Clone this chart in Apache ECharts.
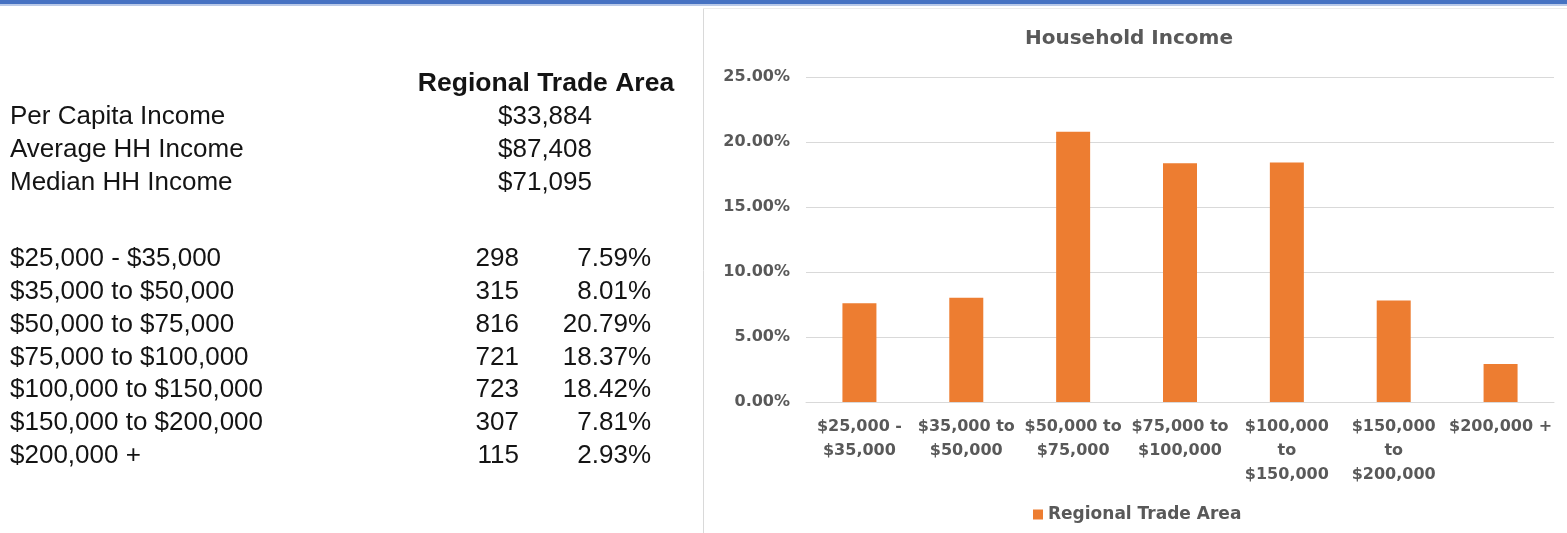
<!DOCTYPE html>
<html>
<head>
<meta charset="utf-8">
<title>Household Income</title>
<script src="https://cdn.jsdelivr.net/npm/echarts@6/dist/echarts.min.js"></script>
<style>
  html, body { margin: 0; padding: 0; background: #fff; }
  #main { width: 1567px; height: 533px; }
</style>
</head>
<body>
<div id="main"></div>
<script>
// chart data
const categories = ['$25,000 -\n$35,000', '$35,000 to\n$50,000', '$50,000 to\n$75,000', '$75,000 to\n$100,000',
  '$100,000\nto\n$150,000', '$150,000\nto\n$200,000', '$200,000 +']
const shares = [7.59, 8.01, 20.79, 18.37, 18.42, 7.81, 2.93]
const seriesName = 'Regional Trade Area'
const yMin = 0
const yMax = 25
const yStep = 5

// table data
const bandLabels = ['$25,000 - $35,000', '$35,000 to $50,000', '$50,000 to $75,000', '$75,000 to $100,000',
  '$100,000 to $150,000', '$150,000 to $200,000', '$200,000 +']
const households = [298, 315, 816, 721, 723, 307, 115]
const summaryLabels = ['Per Capita Income', 'Average HH Income', 'Median HH Income']
const summaryValues = ['$33,884', '$87,408', '$71,095']

const tableFont = '"Liberation Sans", Arial, sans-serif'
const chartFont = '"DejaVu Sans", sans-serif'
const axisGray = '#595959'

function cell(text, x, y, align, bold) {
  return {
    type: 'text',
    x: x,
    y: y,
    style: {
      text: text,
      fill: '#141414',
      font: (bold ? 'bold 26.5px ' : '26px ') + tableFont,
      textAlign: align,
      textVerticalAlign: 'middle'
    }
  }
}

const graphics = [
  // blue strip along the top of the sheet
  { type: 'rect', shape: { x: 0, y: 0, width: 1567, height: 4 }, style: { fill: '#4672c2' } },
  { type: 'rect', shape: { x: 0, y: 4, width: 1567, height: 2 }, style: { fill: '#b9c9e8' } },
  // chart panel border
  { type: 'line', shape: { x1: 703.5, y1: 8, x2: 703.5, y2: 533 }, style: { stroke: '#d9d9d9', lineWidth: 1 } },
  { type: 'line', shape: { x1: 703, y1: 8.5, x2: 1567, y2: 8.5 }, style: { stroke: '#ececec', lineWidth: 1 } },
  cell(seriesName, 546, 84, 'center', true)
]

summaryLabels.forEach((label, i) => {
  const y = 117 + i * 33
  graphics.push(cell(label, 10, y, 'left'))
  graphics.push(cell(summaryValues[i], 545, y, 'center'))
})

bandLabels.forEach((label, i) => {
  const y = 259 + i * 32.8
  graphics.push(cell(label, 10, y, 'left'))
  graphics.push(cell(String(households[i]), 519, y, 'right'))
  graphics.push(cell(shares[i].toFixed(2) + '%', 651, y, 'right'))
})

const options = {
  animation: false,
  textStyle: { fontFamily: chartFont },
  title: {
    text: 'Household Income',
    left: 1025,
    top: 29,
    padding: 0,
    textStyle: { fontFamily: chartFont, fontSize: 20, fontWeight: 'bold', color: axisGray }
  },
  legend: {
    data: [seriesName],
    left: 1033,
    top: 506,
    itemWidth: 10,
    itemHeight: 10,
    itemGap: 5,
    icon: 'rect',
    padding: 0,
    textStyle: { fontFamily: chartFont, fontSize: 17, fontWeight: 'bold', color: axisGray, padding: [0, 0, 0, 0] }
  },
  grid: { left: 806, right: 13, top: 77, bottom: 131, containLabel: false },
  xAxis: {
    type: 'category',
    data: categories,
    axisLine: { lineStyle: { color: '#d9d9d9', width: 1 } },
    axisTick: { show: false },
    axisLabel: {
      interval: 0,
      margin: 13,
      fontFamily: chartFont,
      fontSize: 16,
      fontWeight: 'bold',
      color: axisGray,
      lineHeight: 24,
      align: 'center'
    }
  },
  yAxis: {
    type: 'value',
    min: yMin,
    max: yMax,
    interval: yStep,
    axisLine: { show: false },
    axisTick: { show: false },
    splitLine: { lineStyle: { color: '#d9d9d9', width: 1 } },
    axisLabel: {
      margin: 16,
      fontFamily: chartFont,
      fontSize: 16,
      fontWeight: 'bold',
      color: axisGray,
      padding: [4, 0, 0, 0],
      formatter: v => v.toFixed(2) + '%'
    }
  },
  series: [{
    name: seriesName,
    type: 'bar',
    data: shares,
    barWidth: 34,
    itemStyle: { color: '#ed7d31' }
  }],
  graphic: graphics
}

const chart = echarts.init(document.getElementById('main'))
chart.setOption(options, true)
window.addEventListener('resize', () => {
  chart.resize()
})
</script>
</body>
</html>
